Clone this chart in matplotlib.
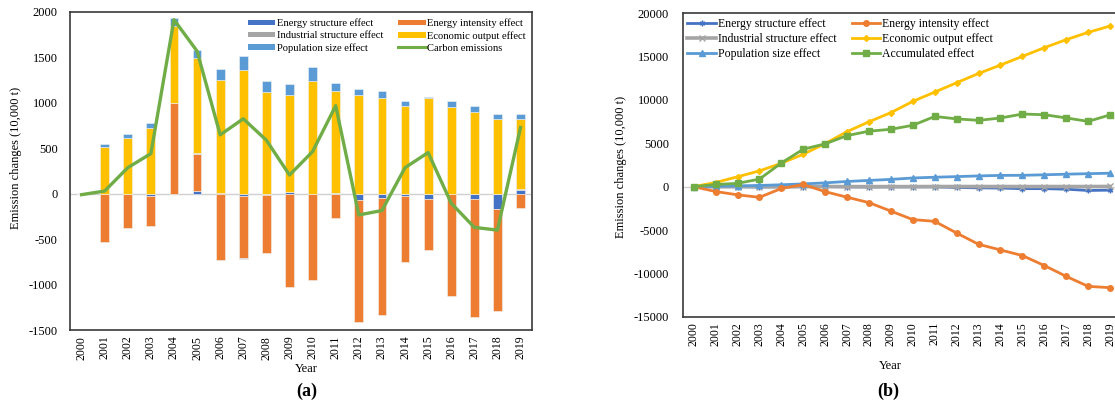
import numpy as np
import matplotlib
matplotlib.use("Agg")
import matplotlib.pyplot as plt
from matplotlib.patches import Patch
from matplotlib.lines import Line2D

plt.rcParams["font.family"] = ["Liberation Serif", "DejaVu Serif"]
plt.rcParams["axes.unicode_minus"] = False

years = [str(y) for y in range(2000, 2020)]

# ---- (a) annual decomposition, 10,000 t ----
energy_structure = [0, 0, 0, -30, 0, 30, 10, -30, -15, 18, 0, 0, -74, -44, -30, -63, 0, -63, -166, 40]
energy_intensity = [0, -530, -381, -325, 994, 405, -733, -673, -640, -1021, -951, -263, -1339, -1288, -717, -551, -1128, -1298, -1125, -155]
industrial_structure = [0, 0, 0, 0, 5, 10, 0, -10, 0, 0, 0, 10, 0, 0, 0, 0, 0, 0, 0, 10]
economic_output = [0, 516, 611, 729, 851, 1045, 1242, 1363, 1116, 1072, 1237, 1117, 1090, 1053, 969, 1053, 958, 902, 821, 773]
population_size = [0, 36, 52, 52, 81, 96, 122, 158, 121, 118, 163, 96, 66, 81, 55, 11, 66, 67, 56, 55]
carbon_emissions = [-10, 30, 287, 442, 1915, 1569, 648, 825, 589, 206, 464, 969, -233, -185, 287, 453, -104, -370, -400, 729]

# ---- (b) accumulated decomposition, 10,000 t ----
acc_energy_structure = [0, 0, 0, -30, -30, 0, 10, -20, -35, -17, -17, -17, -91, -135, -165, -228, -228, -291, -440, -400]
acc_energy_intensity = [0, -560, -940, -1230, -210, 250, -575, -1220, -1840, -2820, -3800, -4000, -5350, -6650, -7300, -7950, -9100, -10350, -11500, -11650]
acc_industrial_structure = [0, 0, 0, 0, 5, 15, 15, 5, 5, 5, 5, 15, 15, 15, 15, 15, 15, 15, 15, 25]
acc_economic_output = [0, 480, 1140, 1820, 2700, 3740, 4970, 6350, 7490, 8540, 9840, 10910, 11990, 13060, 14030, 15030, 16030, 16960, 17800, 18530]
acc_population_size = [0, 40, 90, 140, 220, 320, 440, 600, 720, 840, 1000, 1090, 1160, 1240, 1300, 1310, 1370, 1440, 1500, 1550]
acc_total = [0, 250, 380, 870, 2730, 4320, 4940, 5890, 6400, 6620, 7080, 8100, 7820, 7650, 7920, 8380, 8300, 7930, 7530, 8280]

C_ES, C_EI, C_IS = "#4472C4", "#ED7D31", "#A5A5A5"
C_EO, C_PS, C_GR = "#FFC000", "#5B9BD5", "#70AD47"
FRAME = "#3a3a3a"

fig = plt.figure(figsize=(11.15, 4.08), dpi=100)
ax1 = fig.add_axes([0.0628, 0.191, 0.4144, 0.7796])
ax2 = fig.add_axes([0.6123, 0.2238, 0.3931, 0.7436])

x = np.arange(len(years))

# stacked bars: positives build upward, negatives downward
pos_base = np.zeros(len(years))
neg_base = np.zeros(len(years))
bar_series = [
    ("Energy structure effect", energy_structure, C_ES),
    ("Energy intensity effect", energy_intensity, C_EI),
    ("Industrial structure effect", industrial_structure, C_IS),
    ("Economic output effect", economic_output, C_EO),
    ("Population size effect", population_size, C_PS),
]
for name, vals, col in bar_series:
    v = np.array(vals, dtype=float)
    bottom = np.where(v >= 0, pos_base, neg_base)
    ax1.bar(x, v, width=0.38, bottom=bottom, color=col, edgecolor="#f2f2f2",
            linewidth=0.4, zorder=2)
    pos_base += np.clip(v, 0, None)
    neg_base += np.clip(v, None, 0)

ax1.plot(x, carbon_emissions, color=C_GR, lw=2.4, zorder=4)
ax1.axhline(0, color="#d0d0d0", lw=1.0, zorder=1)

ax1.set_xlim(-0.5, len(years) - 0.5)
ax1.set_ylim(-1500, 2000)
ax1.set_yticks(np.arange(-1500, 2001, 500))
ax1.set_xticks(x)
ax1.set_xticklabels(years, rotation=90, fontsize=8.5)
ax1.tick_params(axis="y", labelsize=9, length=0, pad=9)
ax1.tick_params(axis="x", length=0, pad=4)
for s in ax1.spines.values():
    s.set_color(FRAME)
    s.set_linewidth(1.2)
ax1.set_ylabel("Emission changes (10,000 t)", fontsize=9)
ax1.yaxis.set_label_coords(-0.104, 0.54)
ax1.set_xlabel("Year", fontsize=9)
ax1.xaxis.set_label_coords(0.511, -0.104)

handles_a = [
    Patch(facecolor=C_ES), Patch(facecolor=C_IS), Patch(facecolor=C_PS),
    Patch(facecolor=C_EI), Patch(facecolor=C_EO), Line2D([], [], color=C_GR, lw=2.2),
]
labels_a = ["Energy structure effect", "Industrial structure effect", "Population size effect",
            "Energy intensity effect", "Economic output effect", "Carbon emissions"]
ax1.legend(handles_a, labels_a, ncol=2, loc="upper right", bbox_to_anchor=(1.0, 1.0),
           frameon=False, fontsize=7.6, handlelength=2.6, handleheight=0.4,
           handletextpad=0.15, columnspacing=1.4, labelspacing=0.28, borderaxespad=0.2)

# ---- (b) ----
line_series = [
    ("Energy structure effect", acc_energy_structure, C_ES, (6, 2, 0)),
    ("Industrial structure effect", acc_industrial_structure, C_IS, "x"),
    ("Population size effect", acc_population_size, C_PS, "^"),
    ("Energy intensity effect", acc_energy_intensity, C_EI, "o"),
    ("Economic output effect", acc_economic_output, C_EO, "D"),
    ("Accumulated effect", acc_total, C_GR, "s"),
]
ax2.axhline(0, color="#d0d0d0", lw=1.0, zorder=1)
for name, vals, col, mk in line_series:
    ms = {"o": 4, "^": 4.2, "s": 4.2, "D": 3, "x": 4}.get(mk, 4)
    lw = 2.6 if name.startswith("Industrial") else 2.0
    ax2.plot(x, vals, color=col, lw=lw, marker=mk, markersize=ms,
             markeredgecolor=col, markerfacecolor=col, markeredgewidth=1.0,
             label=name, zorder=3)

ax2.set_xlim(-0.5, len(years) - 0.5)
ax2.set_ylim(-15000, 20000)
ax2.set_yticks(np.arange(-15000, 20001, 5000))
ax2.set_xticks(x)
ax2.set_xticklabels(years, rotation=90, fontsize=8.5)
ax2.tick_params(axis="y", labelsize=9, length=0, pad=10)
ax2.tick_params(axis="x", length=0, pad=4)
for s in ax2.spines.values():
    s.set_color(FRAME)
    s.set_linewidth(1.2)
ax2.set_ylabel("Emission changes (10,000 t)", fontsize=9)
ax2.yaxis.set_label_coords(-0.127, 0.493)
ax2.set_xlabel("Year", fontsize=9)
ax2.xaxis.set_label_coords(0.473, -0.143)
ax2.legend(ncol=2, loc="upper left", bbox_to_anchor=(0.0, 1.0), frameon=False,
           fontsize=8.5, handlelength=2.4, handletextpad=0.15, columnspacing=1.3,
           labelspacing=0.25, borderaxespad=0.0)

fig.text(307 / 1115, 1 - 391 / 408, "(a)", ha="center", va="center",
         fontsize=13, fontweight="bold")
fig.text(888 / 1115, 1 - 391 / 408, "(b)", ha="center", va="center",
         fontsize=13, fontweight="bold")

fig.savefig("out.png", dpi=100)
